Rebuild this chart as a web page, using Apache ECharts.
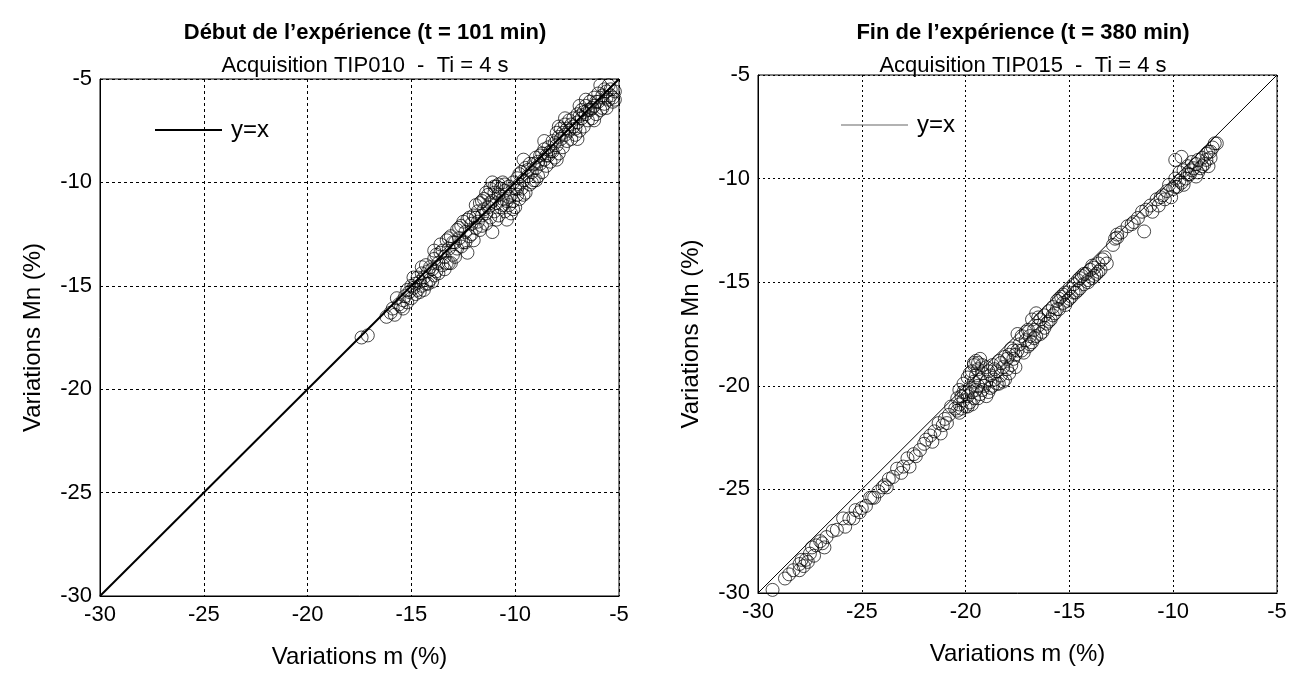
<!DOCTYPE html>
<html>
<head>
<meta charset="utf-8">
<script src="https://cdn.jsdelivr.net/npm/echarts@6/dist/echarts.min.js"></script>
<style>
html,body{margin:0;padding:0;background:#fff;}
#chart{width:1302px;height:674px;}
</style>
</head>
<body>
<div id="chart"></div>
<script>
// ---------- data ----------
const axisMin = -30;
const axisMax = -5;
const axisStep = 5;
const identityLine = [-30, -5];

const leftTitle = 'Début de l’expérience (t = 101 min)';
const leftSubtitle = 'Acquisition TIP010  -  Ti = 4 s';
const rightTitle = 'Fin de l’expérience (t = 380 min)';
const rightSubtitle = 'Acquisition TIP015  -  Ti = 4 s';
const xName = 'Variations m (%)';
const yName = 'Variations Mn (%)';
const legendName = 'y=x';

// Left plot (début) : [m, Mn]
const leftPoints = [
[-17.4,-17.5],[-17.1,-17.4],[-16.2,-16.5],[-16.0,-16.3],[-15.9,-16.1],[-15.8,-16.4],[-15.6,-15.9],[-15.5,-16.0],
[-15.4,-15.7],[-15.3,-15.5],[-15.2,-15.8],[-15.1,-15.3],[-15.0,-15.6],[-14.9,-15.1],[-14.9,-14.6],[-14.8,-14.9],
[-14.8,-15.4],[-14.7,-15.2],[-14.6,-14.8],[-14.6,-15.3],[-14.5,-15.0],[-14.4,-14.6],[-14.3,-14.9],[-14.3,-14.0],
[-14.2,-14.3],[-14.1,-14.7],[-14.0,-14.2],[-14.0,-14.8],[-13.9,-13.7],[-13.9,-14.5],[-13.8,-14.3],[-13.7,-13.9],
[-13.6,-13.4],[-13.6,-13.0],[-13.5,-14.0],[-13.4,-13.6],[-13.3,-12.8],[-13.3,-13.9],[-13.2,-13.2],[-13.1,-12.6],
[-13.0,-13.5],[-12.9,-12.9],[-12.9,-13.6],[-12.8,-12.3],[-12.8,-13.2],[-12.7,-12.7],[-12.6,-12.1],[-12.5,-12.9],
[-12.4,-12.4],[-12.3,-11.8],[-12.3,-13.4],[-12.2,-12.6],[-12.1,-12.0],[-12.0,-11.6],[-12.0,-12.8],
[-15.7,-15.6],[-15.4,-16.1],[-15.2,-15.2],[-15.0,-15.0],[-14.7,-14.6],[-14.5,-14.4],[-14.4,-15.2],[-14.2,-14.9],
[-14.1,-14.1],[-13.8,-13.5],[-13.7,-14.4],[-13.5,-13.3],[-13.4,-14.2],[-13.2,-12.7],[-13.1,-13.9],[-13.0,-12.9],
[-13.9,-13.3],[-13.2,-13.9],[-14.5,-14.1],
[-12.7,-12.2],[-12.6,-13.1],[-12.5,-11.9],[-12.4,-12.9],[-12.2,-11.7],[-12.1,-12.5],
[-11.9,-12.2],[-11.8,-11.4],[-11.8,-11.9],[-11.7,-11.0],[-11.7,-12.3],[-11.6,-11.6],[-11.5,-10.8],[-11.5,-11.3],
[-11.4,-12.0],[-11.3,-10.6],[-11.3,-11.2],[-11.2,-10.3],[-11.2,-11.7],[-11.1,-10.0],[-11.1,-10.9],[-11.1,-12.4],
[-11.0,-10.5],[-11.0,-11.4],[-10.9,-10.2],[-10.9,-11.0],[-10.8,-10.6],[-10.8,-11.6],[-10.7,-10.3],[-10.7,-11.2],
[-10.6,-10.0],[-10.6,-10.8],[-10.5,-11.4],[-10.5,-10.4],[-10.4,-11.8],[-10.4,-10.9],[-10.3,-10.2],[-10.3,-11.1],
[-10.2,-10.6],[-10.2,-11.5],[-10.1,-10.0],[-10.1,-10.9],[-10.0,-10.3],[-10.0,-11.2],
[-11.9,-11.1],[-11.9,-11.7],[-11.6,-10.9],[-11.6,-12.1],[-11.4,-10.5],[-11.4,-11.5],[-11.2,-11.0],[-11.0,-10.2],
[-10.9,-11.8],[-10.8,-10.1],[-10.6,-11.1],[-10.5,-10.1],[-10.3,-10.7],[-10.1,-11.3],
[-9.9,-10.6],[-9.9,-9.8],[-9.8,-10.1],[-9.8,-10.8],[-9.7,-9.5],[-9.7,-10.3],[-9.6,-9.9],[-9.5,-10.5],
[-9.5,-9.3],[-9.4,-9.7],[-9.3,-10.1],[-9.3,-9.1],[-9.2,-9.5],[-9.1,-9.9],[-9.0,-8.8],[-9.0,-9.3],
[-8.9,-9.7],[-8.8,-8.7],[-8.8,-9.1],[-8.7,-9.5],[-8.6,-8.4],[-8.6,-8.9],[-8.5,-9.2],[-8.4,-8.3],
[-8.4,-8.7],[-8.3,-9.0],[-8.2,-8.0],[-8.2,-8.5],[-8.1,-8.8],[-8.0,-7.6],[-8.0,-8.2],
[-9.9,-10.3],[-9.8,-9.6],[-9.6,-10.6],[-9.4,-9.4],[-9.2,-10.0],[-9.1,-9.1],[-8.9,-9.0],[-8.7,-8.6],
[-8.5,-8.7],[-8.3,-8.5],[-8.1,-8.1],
[-9.6,-8.9],[-9.0,-9.9],[-8.6,-8.0],[-8.0,-8.9],
[-7.9,-8.6],[-7.8,-7.4],[-7.8,-7.9],[-7.7,-8.3],[-7.6,-7.2],[-7.6,-7.7],[-7.5,-8.0],[-7.4,-7.0],
[-7.4,-7.5],[-7.3,-7.9],[-7.2,-6.9],[-7.2,-7.3],[-7.1,-7.7],[-7.0,-6.7],[-7.0,-7.1],[-6.9,-7.5],
[-6.8,-6.5],[-6.8,-6.9],[-6.7,-7.3],[-6.6,-6.3],[-6.6,-6.7],[-6.5,-7.0],[-6.4,-6.1],[-6.4,-6.5],
[-6.3,-6.9],[-6.2,-5.9],[-6.2,-6.3],[-6.1,-6.7],[-6.0,-5.7],[-6.0,-6.1],[-5.9,-5.3],[-5.9,-6.5],
[-5.8,-5.8],[-5.7,-6.2],[-5.6,-5.6],[-5.5,-6.0],[-5.5,-5.3],[-5.4,-5.8],[-5.3,-6.1],[-5.2,-5.6],[-5.2,-6.0],
[-7.9,-7.8],[-7.7,-7.6],[-7.5,-7.4],[-7.3,-7.2],[-7.1,-7.4],[-6.9,-6.8],[-6.7,-6.6],[-6.5,-6.5],
[-6.3,-6.4],[-6.1,-6.1],[-5.8,-6.4],[-5.7,-5.5],[-5.6,-6.4],[-5.4,-5.5],[-5.3,-5.9],[-5.6,-5.9],
[-7.6,-6.9],[-7.0,-7.9],[-6.6,-6.0],[-6.2,-7.0],[-7.9,-7.3],[-6.9,-6.3]
];

// Right plot (fin) : [m, Mn]
const rightPoints = [
[-29.3,-29.85],[-28.7,-29.3],[-28.5,-29.1],[-28.3,-28.9],[-28.0,-28.6],[-27.9,-28.4],[-27.7,-28.4],[-27.5,-28.1],
[-27.4,-27.8],[-27.2,-27.7],[-27.0,-27.5],[-26.9,-27.6],[-26.7,-27.3],[-26.4,-27.0],[-26.2,-26.95],[-25.9,-26.4],
[-25.6,-26.4],[-25.3,-26.0],[-25.0,-25.9],[-24.8,-25.8],[-24.6,-25.4],[-24.5,-25.4],[-24.2,-25.1],[-24.0,-24.9],
[-23.9,-24.8],[-23.7,-24.5],[-23.5,-24.4],[-23.3,-24.0],[-23.0,-23.9],[-22.8,-23.5],[-22.7,-23.9],[-22.5,-23.3],
[-22.2,-23.1],[-22.0,-22.8],[-21.9,-22.6],[-21.7,-22.4],[-21.5,-22.2],[-21.3,-21.8],[-21.1,-21.9],[-21.0,-21.6],
[-20.8,-21.4],[-20.7,-21.0],
[-28.0,-28.9],[-27.8,-28.7],[-27.6,-28.5],[-27.3,-28.2],[-26.8,-27.8],[-25.8,-26.8],[-25.4,-26.4],[-25.1,-26.1],
[-24.4,-25.4],[-23.8,-24.9],[-23.1,-24.2],[-22.4,-23.4],[-21.6,-22.7],[-21.2,-22.3],[-20.9,-21.8],
[-20.5,-21.1],[-20.4,-20.6],[-20.4,-21.2],[-20.3,-20.2],[-20.3,-20.9],[-20.2,-20.5],[-20.2,-21.1],[-20.1,-19.9],
[-20.1,-20.7],[-20.0,-20.3],[-20.0,-21.0],[-19.9,-19.6],[-19.9,-20.5],[-19.8,-20.1],[-19.8,-20.8],[-19.7,-19.3],
[-19.7,-20.3],[-19.6,-19.0],[-19.6,-19.8],[-19.6,-20.6],[-19.5,-18.8],[-19.5,-19.5],[-19.5,-20.2],[-19.4,-19.2],
[-19.4,-20.0],[-19.3,-18.7],[-19.3,-19.7],[-19.3,-20.4],[-19.2,-19.4],[-19.1,-20.0],[-19.0,-19.1],[-19.0,-19.8],
[-18.9,-20.3],[-18.8,-19.5],[-18.7,-19.0],[-18.7,-20.0],[-18.6,-19.7],[-18.5,-19.3],[-18.4,-18.8],[-18.4,-19.9],
[-18.3,-19.5],[-18.2,-19.1],[-18.1,-18.6],[-18.1,-19.7],[-18.0,-19.2],[-17.9,-18.5],[-17.8,-19.0],[-17.8,-18.2],
[-17.7,-18.7],[-17.6,-19.1],[-17.5,-17.5],[-17.5,-18.3],
[-20.3,-21.3],[-20.1,-20.3],[-19.9,-21.0],[-19.8,-19.4],[-19.7,-20.9],[-19.6,-18.9],[-19.4,-18.9],[-19.4,-20.6],
[-19.2,-19.0],[-19.2,-20.2],[-19.0,-20.5],[-18.9,-19.3],[-18.8,-20.1],[-18.6,-19.2],[-18.5,-19.9],[-18.3,-18.9],
[-18.2,-19.8],[-18.0,-18.7],[-17.9,-19.4],[-17.7,-18.3],[-17.6,-18.5],
[-17.4,-18.0],[-17.3,-17.6],[-17.2,-18.4],[-17.1,-17.8],[-17.0,-17.3],[-17.0,-18.1],[-16.9,-17.6],[-16.8,-16.8],
[-16.8,-17.9],[-16.7,-17.3],[-16.6,-16.5],[-16.6,-17.6],[-16.5,-17.1],[-16.4,-16.8],[-16.3,-17.4],[-16.2,-16.6],
[-16.1,-17.0],[-16.0,-16.4],[-15.9,-16.8],[-15.8,-16.2],[-15.7,-16.5],[-15.6,-15.9],[-15.5,-16.3],[-15.4,-15.7],
[-15.3,-16.0],[-15.2,-15.5],[-15.1,-15.9],[-15.0,-15.3],[-14.9,-15.7],[-14.8,-15.1],[-14.7,-15.5],[-14.6,-14.9],
[-14.5,-15.3],[-14.4,-14.7],[-14.3,-15.1],[-14.2,-14.6],[-14.1,-14.9],[-14.0,-14.4],[-13.9,-14.8],[-13.8,-14.3],
[-13.7,-14.6],[-13.6,-14.1],[-13.5,-14.4],[-13.3,-13.8],[-13.2,-14.1],
[-17.3,-18.3],[-17.1,-17.4],[-16.9,-18.0],[-16.7,-17.7],[-16.5,-16.7],[-16.4,-17.5],[-16.2,-17.2],[-16.0,-16.9],
[-15.8,-16.6],[-15.6,-16.3],[-15.5,-15.8],[-15.3,-15.6],[-15.2,-16.1],[-15.0,-15.8],[-14.8,-15.5],[-14.6,-15.4],
[-14.5,-14.8],[-14.3,-14.6],[-14.1,-15.0],[-13.9,-14.2],[-13.8,-14.7],[-13.6,-14.5],[-13.4,-13.9],
[-12.9,-13.2],[-12.8,-12.9],[-12.7,-12.7],[-12.7,-12.85],[-12.5,-12.6],[-12.2,-12.3],[-12.0,-12.2],[-11.9,-12.1],
[-11.7,-11.9],[-11.5,-11.6],[-11.4,-12.55],[-11.3,-11.5],[-11.1,-11.3],[-11.0,-11.6],[-10.8,-11.0],[-10.7,-11.3],
[-10.6,-10.9],[-10.5,-10.8],[-10.3,-10.6],[-10.2,-10.3],[-10.1,-10.9],[-10.0,-10.5],[-9.9,-10.0],[-9.9,-9.1],
[-9.8,-10.4],[-9.7,-9.7],[-9.6,-8.95],[-9.6,-10.2],[-9.5,-9.6],[-9.4,-10.0],[-9.3,-9.4],[-9.2,-9.8],
[-9.1,-9.2],[-9.0,-9.5],[-8.9,-9.9],[-8.8,-9.1],[-8.7,-9.5],[-8.6,-9.0],[-8.5,-9.3],[-8.4,-8.8],
[-8.3,-9.4],[-8.3,-8.7],[-8.2,-9.0],[-8.1,-8.5],[-8.0,-8.3],[-7.9,-8.3],
[-10.4,-11.0],[-9.9,-10.4],[-9.7,-10.1],[-9.5,-10.3],[-9.3,-9.8],[-9.1,-9.6],[-8.9,-9.3],[-8.8,-9.7],
[-8.6,-9.4],[-8.4,-9.1],[-8.2,-8.7]
];

// ---------- chart ----------
const FONT = '"Liberation Sans", Arial, Helvetica, sans-serif';
const chart = echarts.init(document.getElementById('chart'), null, {renderer: 'canvas'});
const linePts = [[identityLine[0], identityLine[0]], [identityLine[1], identityLine[1]]];

function mkX(gridIndex, dash) {
  return {
    type: 'value', gridIndex, min: axisMin, max: axisMax, interval: axisStep,
    name: xName, nameLocation: 'middle', nameGap: 49,
    nameTextStyle: {fontFamily: FONT, fontSize: 24, color: '#000'},
    axisLine: {show: true, onZero: false, lineStyle: {color: '#000', width: 1}},
    axisTick: {show: false},
    axisLabel: {fontFamily: FONT, fontSize: 22, color: '#000', margin: 8},
    splitLine: {show: true, lineStyle: {color: '#000', width: 1, type: dash}}
  };
}
function mkY(gridIndex, dash) {
  return {
    type: 'value', gridIndex, min: axisMin, max: axisMax, interval: axisStep,
    name: yName, nameLocation: 'middle', nameGap: 55, nameRotate: 90,
    nameTextStyle: {fontFamily: FONT, fontSize: 24, color: '#000'},
    axisLine: {show: true, onZero: false, lineStyle: {color: '#000', width: 1}},
    axisTick: {show: false},
    axisLabel: {fontFamily: FONT, fontSize: 22, color: '#000', margin: 8},
    splitLine: {show: true, lineStyle: {color: '#000', width: 1, type: dash}}
  };
}

const option = {
  animation: false,
  backgroundColor: '#fff',
  title: [
    {text: leftTitle, left: 360, top: 17, textAlign: 'center',
     textStyle: {fontFamily: FONT, fontSize: 22, fontWeight: 'bold', color: '#000'}},
    {text: leftSubtitle, left: 360, top: 50, textAlign: 'center',
     textStyle: {fontFamily: FONT, fontSize: 22, fontWeight: 'normal', color: '#000'}},
    {text: rightTitle, left: 1018, top: 17, textAlign: 'center',
     textStyle: {fontFamily: FONT, fontSize: 22, fontWeight: 'bold', color: '#000'}},
    {text: rightSubtitle, left: 1018, top: 50, textAlign: 'center',
     textStyle: {fontFamily: FONT, fontSize: 22, fontWeight: 'normal', color: '#000'}}
  ],
  legend: [
    {data: [legendName], left: 150, top: 113, icon: 'rect', itemWidth: 67, itemHeight: 2, itemGap: 10,
     itemStyle: {color: '#000'},
     textStyle: {fontFamily: FONT, fontSize: 24, color: '#000', padding: [0, 0, 0, 4]}},
    {data: [legendName + ' '], left: 836, top: 108, icon: 'rect', itemWidth: 67, itemHeight: 1.2, itemGap: 10,
     itemStyle: {color: '#666'},
     textStyle: {fontFamily: FONT, fontSize: 24, color: '#000', padding: [0, 0, 0, 4]}}
  ],
  grid: [
    {left: 100, top: 79, width: 519, height: 518, show: true, borderColor: '#000', borderWidth: 1, backgroundColor: 'transparent'},
    {left: 758, top: 75, width: 519, height: 518, show: true, borderColor: '#000', borderWidth: 1, backgroundColor: 'transparent'}
  ],
  xAxis: [mkX(0, [3, 3]), mkX(1, [2, 3])],
  yAxis: [mkY(0, [3, 3]), mkY(1, [2, 3])],
  series: [
    {type: 'line', name: legendName, xAxisIndex: 0, yAxisIndex: 0, data: linePts,
     symbol: 'none', lineStyle: {color: '#000', width: 2}, z: 3},
    {type: 'scatter', name: 'debut', xAxisIndex: 0, yAxisIndex: 0, data: leftPoints,
     symbol: 'circle', symbolSize: 13,
     itemStyle: {color: 'rgba(0,0,0,0)', borderColor: '#000', borderWidth: 0.9}, z: 4},
    {type: 'line', name: legendName + ' ', xAxisIndex: 1, yAxisIndex: 1, data: linePts,
     symbol: 'none', lineStyle: {color: '#000', width: 1}, z: 3},
    {type: 'scatter', name: 'fin', xAxisIndex: 1, yAxisIndex: 1, data: rightPoints,
     symbol: 'circle', symbolSize: 13,
     itemStyle: {color: 'rgba(0,0,0,0)', borderColor: '#000', borderWidth: 0.9}, z: 4}
  ]
};
chart.setOption(option);
</script>
</body>
</html>
